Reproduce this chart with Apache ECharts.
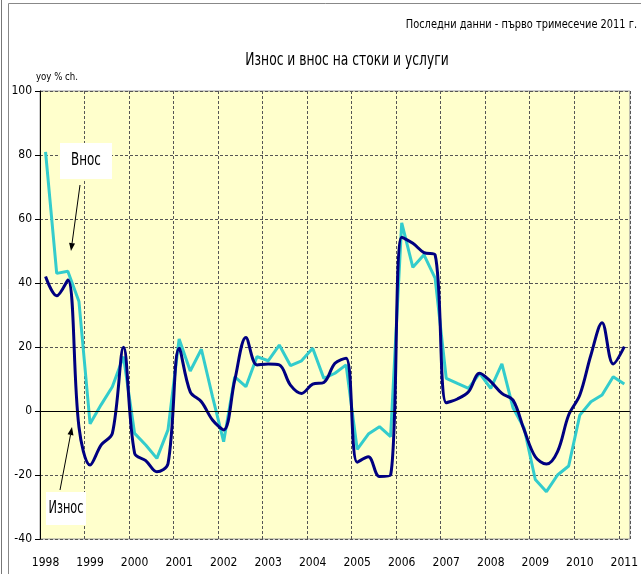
<!DOCTYPE html>
<html><head><meta charset="utf-8">
<script src="https://cdn.jsdelivr.net/npm/echarts@6/dist/echarts.min.js"></script>
<style>html,body{margin:0;padding:0;background:#fff}#c{width:641px;height:574px}</style>
</head><body><div id="c"></div>
<script>
var years = ['1998','1999','2000','2001','2002','2003','2004','2005','2006','2007','2008','2009','2010','2011'];
var yTicks = [-40,-20,0,20,40,60,80,100];
// quarterly, 1998Q1 .. 2011Q1
var iznos = [42,36,40.9,-5,-16.9,-10.6,-7,19.9,
 -13.2,-15.5,-19,-16.5,19.6,6,2.9,-2.8,
 -5.9,9.7,23,14.4,14.7,14.4,8.1,5.5,
 8.4,8.9,14.9,16.5,-16,-14.3,-20.5,-20,
 54.3,52.4,49.5,48.8,2.6,3.75,6,11.8,
 9.2,5.5,3.4,-5.9,-14.3,-16.6,-12.7,-1.25,
 5,17.5,27.6,14.7,20.1];
var vnos = [81,43,43.7,34.2,-4,2,7.6,17,
 -7,-10.6,-14.8,-5.9,22.5,12.5,19.3,4.5,
 -9.6,10.7,7.6,17,15.7,20.6,14.2,15.7,
 19.6,10.2,11.8,14.4,-12,-7.2,-4.9,-8,
 58.8,44.9,48.8,41.5,10.2,8.6,7.1,11.8,
 7.1,14.7,1,-5.4,-21.4,-25.2,-20,-17.2,
 -1.3,2.9,5,10.7,8.4];
var categories = [];
for (var y = 0; y < years.length; y++) {
  for (var q = 1; q <= 4; q++) {
    if (categories.length < iznos.length) categories.push(years[y] + ' Q' + q);
  }
}
var FONT = '"DejaVu Sans Condensed","DejaVu Sans",sans-serif';

function arrow(x1, y1, x2, y2) {
  var dx = x2 - x1, dy = y2 - y1, L = Math.sqrt(dx*dx + dy*dy);
  var ux = dx / L, uy = dy / L, px = -uy, py = ux, hl = 8, hw = 3;
  var bx = x2 - ux*hl, by = y2 - uy*hl;
  return [
    {type:'line', shape:{x1:x1,y1:y1,x2:bx,y2:by}, style:{stroke:'#000',lineWidth:1}},
    {type:'polygon', shape:{points:[[x2,y2],[bx+px*hw,by+py*hw],[bx-px*hw,by-py*hw]]}, style:{fill:'#000'}}
  ];
}
function txt(s, x, y, size, sx, align, z) {
  return {type:'text', x:x, y:y, scaleX:sx, z:z || 5,
    style:{text:s, font:size + 'px ' + FONT, fill:'#000', align:align, verticalAlign:'middle'}};
}

var chart = echarts.init(document.getElementById('c'), null, {renderer:'canvas'});
var graphics = [
  {type:'line', shape:{x1:1.5,y1:0,x2:1.5,y2:574}, style:{stroke:'#777',lineWidth:1}},
  {type:'rect', shape:{x:8.5,y:3.5,width:660,height:600}, style:{fill:null,stroke:'#888',lineWidth:1}},
  txt('Последни данни - първо тримесечие 2011 г.', 637, 25, 13, 0.84, 'right'),
  txt('Износ и внос на стоки и услуги', 347, 60, 18, 0.76, 'center'),
  txt('yoy % ch.', 36, 77, 11, 0.87, 'left'),
  {type:'rect', shape:{x:60,y:143,width:52,height:36}, style:{fill:'#fff'}, z:10},
  txt('Внос', 86, 161, 17, 0.78, 'center', 11),
  {type:'rect', shape:{x:46,y:492,width:40,height:33}, style:{fill:'#fff'}, z:10},
  txt('Износ', 66, 509, 17, 0.74, 'center', 11)
];
arrow(80,185,71,251).concat(arrow(60,490,72,427)).forEach(function(g){ g.z = 11; graphics.push(g); });

chart.setOption({
  animation:false,
  backgroundColor:'#fff',
  grid:{left:40, right:5, top:91, bottom:35, show:true, backgroundColor:'#FFFFCC', borderColor:'#999', borderWidth:1},
  xAxis:{type:'category', data:categories, boundaryGap:true,
    axisLine:{onZero:false, show:false},
    axisTick:{show:false},
    axisLabel:{interval:3, margin:18, fontFamily:FONT, fontSize:12, color:'#000',
      formatter:function(v){ return v.slice(0,4); }},
    splitLine:{show:true, interval:3, lineStyle:{type:[3,2], color:'#555', width:1}}
  },
  yAxis:{type:'value', min:yTicks[0], max:yTicks[yTicks.length-1], interval:20,
    axisLine:{show:true, lineStyle:{color:'#000', width:1}},
    axisTick:{show:true, length:5, lineStyle:{color:'#000'}},
    axisLabel:{margin:8, fontFamily:FONT, fontSize:12, color:'#000'},
    splitLine:{show:true, lineStyle:{type:[3,2], color:'#555', width:1}}
  },
  series:[
    {name:'Внос', type:'line', data:vnos, symbol:'none', smooth:false,
      lineStyle:{color:'#33CCCC', width:3}, itemStyle:{color:'#33CCCC'}, z:3,
      markLine:{silent:true, symbol:'none', label:{show:false},
        lineStyle:{color:'#000', width:1, type:'solid'}, data:[{yAxis:0}]}},
    {name:'Износ', type:'line', data:iznos, symbol:'none', smooth:0.35,
      lineStyle:{color:'#000080', width:3}, itemStyle:{color:'#000080'}, z:4}
  ],
  graphic:graphics
});
</script></body></html>
